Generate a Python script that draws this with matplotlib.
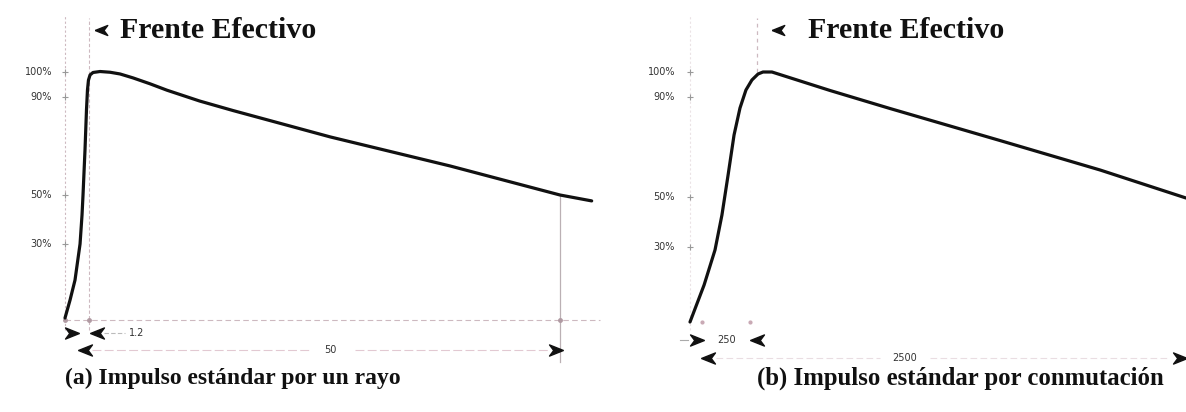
import matplotlib
matplotlib.use("Agg")
import matplotlib.pyplot as plt

# (a) impulso tipo rayo: tiempo (us, esquematico) y tension (%)
t_rayo = [0, 0.51, 1.01, 1.52, 1.72, 1.82, 2.02, 2.17, 2.27, 2.37, 2.53, 2.83, 3.54,
          4.55, 5.56, 6.87, 8.59, 10.3, 13.6, 17.0, 26.8, 38.9, 50, 53.2]
v_rayo = [0, 7.3, 15.4, 30.1, 41.9, 50, 68.3, 84.6, 92.7, 96.7, 98.8, 99.8, 100.2,
          99.9, 99.2, 97.6, 95.2, 92.6, 88.2, 84.3, 73.6, 61.8, 50, 47.6]

# (b) impulso de conmutacion: tiempo (us, esquematico) y tension (%)
t_conm = [0, 71, 126, 161, 192, 222, 252, 282, 312, 343, 368, 413, 706, 1008, 1562, 2067, 2500]
v_conm = [0, 14.8, 28.8, 42.8, 58.8, 74.8, 85.6, 92.8, 96.8, 99.2, 100, 100, 92.6, 85.4,
          72.6, 60.8, 49.6]

niveles = [100, 90, 50, 30]
etiquetas = ["100%", "90%", "50%", "30%"]

frente_rayo = 2.4
frente_conm = 338
cola_rayo = 50
cola_conm = 2500
cota_frente = ["1.2", "250"]
cota_cola = ["50", "2500"]
titulos = ["(a) Impulso estándar por un rayo", "(b) Impulso estándar por conmutación"]

W, H = 1186, 412
fig = plt.figure(figsize=(W / 100, H / 100), dpi=100)
fig.patch.set_facecolor("white")

flecha_der = [(1, 0), (-1, 0.8), (-0.4, 0), (-1, -0.8), (1, 0)]
flecha_izq = [(-x, y) for x, y in flecha_der]

gris = "#cdb9c0"
negro = "#111111"
serif = "Liberation Serif"


def panel(px0, px1, x0px, sx, y0px, sy, t, v, frente, cola, c_frente, c_cola, tick_px, conm):
    ax = fig.add_axes([px0 / W, 0, (px1 - px0) / W, 1])
    ax.set_xlim((px0 - x0px) / sx, (px1 - x0px) / sx)
    ax.set_ylim((y0px - H) / sy, y0px / sy)
    ax.axis("off")
    dx = lambda p: (p - x0px) / sx
    dy = lambda p: (y0px - p) / sy

    # ejes y lineas guia
    ax.plot([0, 0], [dy(330), dy(15)], color=gris, lw=0.8, ls=(0, (2, 2)), alpha=0.4 if conm else 1)
    if conm:
        ax.plot([frente, frente], [100, dy(18)], color=gris, lw=0.9, ls=(0, (3, 3)))
        ax.plot([dx(702), dx(750)], [0, 0], ls="none", marker="o", ms=2, color="#c9a9b4")
    else:
        ax.plot([frente, frente], [dy(330), dy(18)], color=gris, lw=0.8, ls=(0, (3, 2)))
        ax.plot([0, dx(600)], [dy(320), dy(320)], color=gris, lw=0.8, ls=(0, (5, 3)))
        ax.plot([cola, cola], [50, dy(362)], color="#bbb0b4", lw=0.9)
        ax.plot([0, frente, cola], [dy(320)] * 3, ls="none", marker="o", ms=2.5, color="#b09aa2")

    # marcas de nivel
    ax.plot([0] * len(niveles), niveles, ls="none", marker="+", ms=4, mew=0.8, color="#999999")
    for n, e in zip(niveles, etiquetas):
        ax.text(dx(tick_px), n, e, ha="right", va="center", fontsize=7,
                family="DejaVu Sans", color="#333333")

    # curva
    ax.plot(t, v, color=negro, lw=2.3, solid_capstyle="round", solid_joinstyle="round")

    # cotas
    if conm:
        r1, r2 = 340, 358
        ax.plot(dx(697), dy(r1), marker=flecha_der, ms=10, color=negro, ls="none")
        ax.plot(dx(757), dy(r1), marker=flecha_izq, ms=10, color=negro, ls="none")
        ax.plot([dx(680), dx(688)], [dy(r1)] * 2, color="#aaaaaa", lw=0.8)
        ax.text(dx(727), dy(r1), c_frente, ha="center", va="center", fontsize=7,
                family="DejaVu Sans", color="#333333")
        ax.plot(dx(708), dy(r2), marker=flecha_izq, ms=10, color=negro, ls="none")
        ax.plot([dx(716), dx(880)], [dy(r2)] * 2, color="#eadde2", lw=0.8, ls=(0, (6, 3)))
        ax.text(dx(905), dy(r2), c_cola, ha="center", va="center", fontsize=7,
                family="DejaVu Sans", color="#333333")
        ax.plot([dx(930), dx(1170)], [dy(r2)] * 2, color="#eadde2", lw=0.8, ls=(0, (6, 3)))
        ax.plot(dx(1180), dy(r2), marker=flecha_der, ms=10, color=negro, ls="none")
        ax.plot(dx(778), dy(30), marker=flecha_izq, ms=9, color=negro, ls="none")
        ax.text(dx(808), dy(30), "Frente Efectivo", ha="left", va="center", fontsize=21.5,
                family=serif, weight="bold", color=negro)
    else:
        r1, r2 = 333, 350
        ax.plot(dx(72), dy(r1), marker=flecha_der, ms=10, color=negro, ls="none")
        ax.plot(dx(97), dy(r1), marker=flecha_izq, ms=10, color=negro, ls="none")
        ax.plot([dx(104), dx(125)], [dy(r1)] * 2, color="#bbbbbb", lw=0.8, ls=(0, (4, 2)))
        ax.text(dx(137), dy(r1), c_frente, ha="center", va="center", fontsize=7,
                family="DejaVu Sans", color="#333333")
        ax.plot(dx(85), dy(r2), marker=flecha_izq, ms=10, color=negro, ls="none")
        ax.plot([dx(92), dx(310)], [dy(r2)] * 2, color="#e2c9d2", lw=0.8, ls=(0, (8, 3)))
        ax.text(dx(330), dy(r2), c_cola, ha="center", va="center", fontsize=7,
                family="DejaVu Sans", color="#333333")
        ax.plot([dx(355), dx(548)], [dy(r2)] * 2, color="#e2c9d2", lw=0.8, ls=(0, (8, 3)))
        ax.plot(dx(556), dy(r2), marker=flecha_der, ms=10, color=negro, ls="none")
        ax.plot(dx(101), dy(30), marker=flecha_izq, ms=9, color=negro, ls="none")
        ax.text(dx(120), dy(30), "Frente Efectivo", ha="left", va="center", fontsize=21.5,
                family=serif, weight="bold", color=negro)
    return ax


panel(0, 620, 65, 9.9, 318, 2.46, t_rayo, v_rayo, frente_rayo, cola_rayo,
      cota_frente[0], cota_cola[0], 52, False)
panel(620, 1186, 690, 496 / 2500, 322, 2.5, t_conm, v_conm, frente_conm, cola_conm,
      cota_frente[1], cota_cola[1], 675, True)

fig.text(65 / W, 1 - 378 / H, titulos[0], ha="left", va="center", fontsize=17,
         family=serif, weight="bold", color=negro)
fig.text(757 / W, 1 - 378 / H, titulos[1], ha="left", va="center", fontsize=17.8,
         family=serif, weight="bold", color=negro)

fig.savefig("out.png", dpi=100, facecolor="white")
